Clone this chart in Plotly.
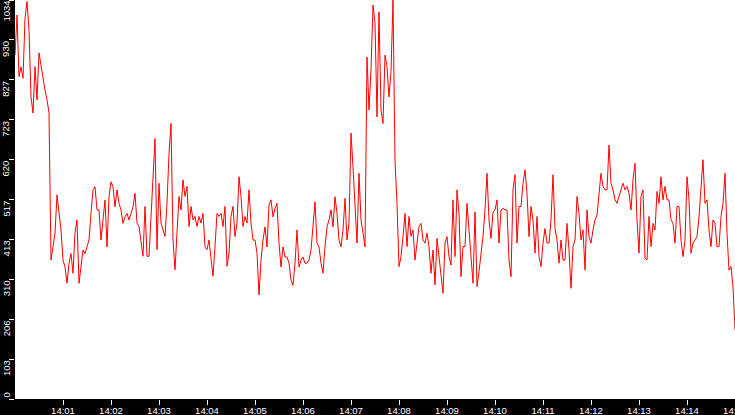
import datetime as dt

import plotly.graph_objects as go

# Valores (um ponto a cada 2,5 s, das 14:00:00 às 14:15:00)
valores = [
    891, 995, 835, 861, 831, 986, 1030, 956, 783, 741, 861, 775, 897, 861, 835, 801, 775, 741, 360, 394,
    430, 529, 481, 438, 360, 342, 300, 351, 377, 326, 430, 464, 300, 351, 386, 377, 394, 412, 481, 542,
    550, 490, 490, 412, 464, 516, 394, 524, 563, 550, 498, 542, 507, 490, 455, 472, 481, 464, 481, 498,
    533, 456, 447, 404, 370, 499, 370, 370, 481, 585, 675, 387, 559, 456, 438, 421, 508, 636, 714, 412,
    335, 430, 525, 490, 568, 525, 551, 447, 499, 464, 473, 447, 473, 456, 481, 395, 387, 412, 361, 318,
    395, 481, 473, 481, 447, 499, 344, 378, 473, 499, 421, 456, 576, 525, 447, 473, 456, 542, 456, 412,
    412, 378, 270, 360, 412, 446, 394, 503, 516, 472, 494, 507, 404, 342, 394, 368, 368, 352, 308, 295,
    352, 438, 342, 360, 368, 352, 352, 360, 386, 456, 511, 404, 394, 352, 326, 394, 446, 464, 490, 446,
    524, 481, 412, 394, 438, 520, 412, 456, 689, 601, 516, 404, 585, 464, 430, 394, 886, 749, 853, 1021,
    974, 731, 1003, 749, 714, 891, 861, 783, 848, 1034,
    619, 507, 343, 369, 421, 481, 395, 473, 421, 438, 360, 412, 447, 455, 412, 404, 430, 395, 326, 386,
    296, 416, 369, 334, 274, 404, 421, 369, 347, 516, 369, 542, 481, 317, 395, 395, 507, 438, 360, 300,
    485, 291, 330, 369, 421, 490, 585, 464, 416, 485, 490, 516, 404, 490, 494, 490, 490, 360, 317,
    542, 581, 404, 499, 499, 559, 594, 533, 421, 499, 464, 378, 473, 369, 343, 404, 442, 404, 404, 464,
    581, 442, 412, 352, 412, 360, 360, 455, 386, 287, 395, 412, 525, 481, 412, 438, 334, 490, 421, 404,
    438, 464, 477, 533, 585, 551, 542, 542, 658, 559, 542, 516, 507, 525, 542, 559, 542, 551, 533, 490,
    568, 611, 464, 378, 525, 542, 365, 360, 473, 395, 455, 438, 538, 507, 576, 516, 551, 516, 516, 464,
    455, 404, 499, 499, 412, 369, 412, 576, 516, 378, 404, 412, 421, 473, 542, 620, 507, 516, 438, 395,
    464, 455, 395, 395, 473, 507, 585, 430, 334, 343, 290, 179,
]

inicio = "2024-01-01 14:00:00"
fim = "2024-01-01 14:15:00"
passo_segundos = 2.5

# Marcas do eixo X
rotulos_x = ["14:01", "14:02", "14:03", "14:04", "14:05", "14:06", "14:07", "14:08",
             "14:09", "14:10", "14:11", "14:12", "14:13", "14:14", "14:15"]

# Marcas do eixo Y
marcas_y = [0, 103.4, 206.8, 310.2, 413.6, 517, 620.4, 723.8, 827.2, 930.6, 1034]
rotulos_y = ["0", "103", "206", "310", "413", "517", "620", "723", "827", "930", "1034"]

FONTE = "Liberation Sans"


def montar_figura():
    """Cria o gráfico de linha"""
    t0 = dt.datetime.fromisoformat(inicio)
    tempos = [t0 + dt.timedelta(seconds=i * passo_segundos) for i in range(len(valores))]
    dia = inicio.split(" ")[0]
    ticks_x = [f"{dia} {r}:00" for r in rotulos_x]

    fig = go.Figure()
    fig.add_trace(go.Scatter(
        x=tempos,
        y=valores,
        mode='lines',
        line=dict(color='#ff0000', width=1),
        showlegend=False,
    ))

    # rótulos do eixo Y girados, terminando na marca
    for v, r in zip(marcas_y, rotulos_y):
        fig.add_annotation(
            x=-0.0125, xref='paper', y=v, yref='y',
            text=r, textangle=-90, showarrow=False,
            xanchor='center', yanchor='bottom' if v == min(marcas_y) else 'top',
            borderpad=0,
            font=dict(family=FONTE, size=9.5, color='white'),
        )

    fig.update_layout(
        width=735,
        height=415,
        autosize=False,
        margin=dict(l=15, r=0, t=0, b=16, pad=0, autoexpand=False),
        paper_bgcolor='black',
        plot_bgcolor='white',
        showlegend=False,
        xaxis=dict(
            range=[inicio, fim],
            tickvals=ticks_x,
            ticktext=rotulos_x,
            ticks='outside', ticklen=5, tickwidth=1, tickcolor='white',
            tickfont=dict(family=FONTE, size=9.5, color='white'),
            ticklabeloverflow='allow',
            ticklabelstandoff=-2,
            automargin=False,
            showgrid=False, zeroline=False, showline=False,
        ),
        yaxis=dict(
            range=[0, 1034],
            tickvals=marcas_y,
            showticklabels=False,
            ticks='outside', ticklen=5, tickwidth=1, tickcolor='white',
            automargin=False,
            showgrid=False, zeroline=False, showline=False,
        ),
    )
    return fig


def main():
    fig = montar_figura()
    # sem margem na página, para o gráfico ocupar a janela inteira
    fig.write_html(
        "out.html",
        config={'displayModeBar': False},
        post_script="document.body.style.margin='0';",
    )


if __name__ == "__main__":
    main()
